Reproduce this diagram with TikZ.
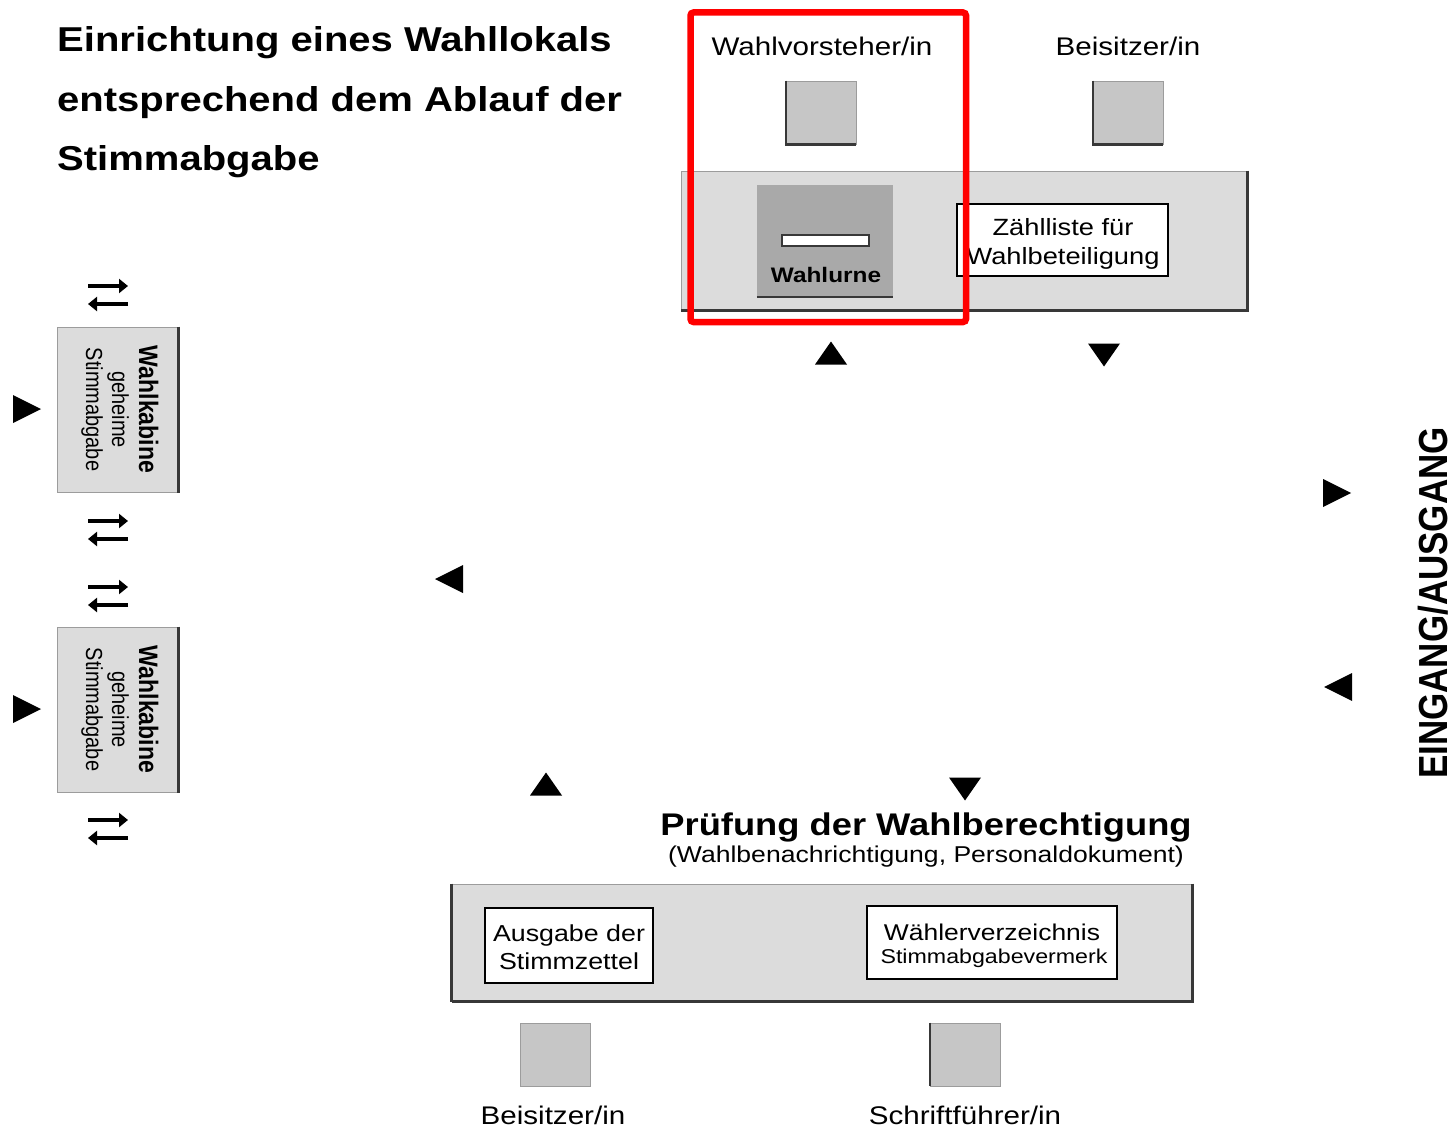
\documentclass[tikz,border=0pt]{standalone}
\usepackage{fontspec}
\setmainfont[FakeStretch=1.16]{Liberation Sans}
% narrower face for the vertical labels
\newfontfamily\vertfont[FakeStretch=0.862]{Liberation Sans}
\usetikzlibrary{arrows.meta}

\definecolor{panelgray}{HTML}{DCDCDC}
\definecolor{seatgray}{HTML}{C6C6C6}
\definecolor{urngray}{HTML}{A9A9A9}
\definecolor{edgedark}{HTML}{383838}
\definecolor{edgelight}{HTML}{9C9C9C}
\definecolor{markred}{HTML}{FF0000}

\newcommand{\fsz}[2]{\fontsize{#1}{#2}\selectfont}

\tikzset{
  panel/.style={draw=edgelight, line width=1pt, fill=panelgray, inner sep=0pt},
  seat/.style={draw=edgelight, line width=0.8pt, fill=seatgray, inner sep=0pt,
               minimum width=70, minimum height=63},
  cabin/.style={draw=edgelight, line width=1pt, fill=panelgray, inner sep=0pt,
                minimum width=121, minimum height=165},
  paper/.style={draw=black, line width=1.3pt, fill=white, inner sep=0pt},
  darkedge/.style={draw=edgedark, line width=2.2pt},
  txt/.style={inner sep=0pt, anchor=base},
  triup/.pic={\fill (-16,11.5) -- (16,11.5) -- (0,-11.5) -- cycle;},
  tridown/.pic={\fill (-16,-11.5) -- (16,-11.5) -- (0,11.5) -- cycle;},
  triright/.pic={\fill (-14,-14) -- (-14,14) -- (14,0) -- cycle;},
  trileft/.pic={\fill (14,-14) -- (14,14) -- (-14,0) -- cycle;},
  xchg/.pic={
    \draw[line width=3.6pt, -{Triangle[length=9pt,width=14pt]}] (-20,-9) -- (20,-9);
    \draw[line width=3.6pt, -{Triangle[length=9pt,width=14pt]}] (20,9) -- (-20,9);
  },
}

\begin{document}
\begin{tikzpicture}[x=1pt, y=-1pt]
\useasboundingbox (0,0) rectangle (1455,1129);
\fill[white] (0,0) rectangle (1455,1129);

% heading
\node[txt, anchor=base west, font=\bfseries\fsz{34.5}{40}] (h1) at (57,52) {Einrichtung eines Wahllokals};
\node[txt, anchor=base west, font=\bfseries\fsz{34.5}{40}] (h2) at (57,111) {entsprechend dem Ablauf der};
\node[txt, anchor=base west, font=\bfseries\fsz{34.5}{40}] (h3) at (57,170) {Stimmabgabe};

% ballot table with urn and tally list
\node[panel, minimum width=566, minimum height=139] (urntable) at (964,240.5) {};
\draw[darkedge] (urntable.north east) -- (urntable.south east) -- (urntable.south west);

\node[draw=none, fill=urngray, inner sep=0pt, minimum width=136, minimum height=112] (urn) at (825,241) {};
\draw[darkedge] (urn.south west) -- (urn.south east);
\node[draw=edgedark, line width=1.2pt, fill=white, inner sep=0pt, minimum width=87, minimum height=11] (slot) at (825.5,240.5) {};
\node[txt, font=\bfseries\fsz{21}{24}] (urnlbl) at (826,282) {Wahlurne};

\node[paper, minimum width=211, minimum height=72] (tally) at (1062.5,240) {};
\node[txt, font=\fsz{23.5}{28}] (tally1) at (1063,235) {Zählliste für};
\node[txt, font=\fsz{23.5}{28}] (tally2) at (1063,264) {Wahlbeteiligung};

% staff seats behind the ballot table
\node[seat] (chair) at (821,112.5) {};
\draw[darkedge] (chair.north west) -- (chair.south west) -- (chair.south east);
\node[seat] (assist1) at (1128,112.5) {};
\draw[darkedge] (assist1.north west) -- (assist1.south west) -- (assist1.south east);
\node[txt, font=\fsz{25.5}{30}] (chairlbl) at (822,56) {Wahlvorsteher/in};
\node[txt, font=\fsz{25.5}{30}] (assist1lbl) at (1128,56) {Beisitzer/in};

% highlight around the chair and the urn
\draw[markred, line width=6.5pt, rounded corners=3] (690.5,12.5) rectangle (966,322);

% voting booths
\node[cabin] (booth1) at (117.5,409.5) {};
\draw[darkedge] (booth1.north east) -- (booth1.south east);
\node[cabin] (booth2) at (117.5,709.5) {};
\draw[darkedge] (booth2.north east) -- (booth2.south east);
\foreach \b/\yc in {1/409.5, 2/709.5}{
  \node[txt, rotate=-90, font=\vertfont\bfseries\fsz{26.7}{30}] (booth\b a) at (139,\yc) {Wahlkabine};
  \node[txt, rotate=-90, font=\vertfont\fsz{23.2}{26}] (booth\b b) at (112,\yc) {geheime};
  \node[txt, rotate=-90, font=\vertfont\fsz{23.2}{26}] (booth\b c) at (86,\yc) {Stimmabgabe};
}

% passage arrows beside the booths
\pic at (108,295) {xchg};
\pic at (108,530) {xchg};
\pic at (108,596) {xchg};
\pic at (108,829) {xchg};

% direction markers of the voters' route
\pic at (831,353) {triup};
\pic at (1104,355) {tridown};
\pic at (27,409) {triright};
\pic at (27,709) {triright};
\pic at (1337,493) {triright};
\pic at (1338,687) {trileft};
\pic at (449,579) {trileft};
\pic at (546,784) {triup};
\pic at (965,789) {tridown};

% entrance
\node[txt, rotate=90, font=\vertfont\bfseries\fsz{40.6}{44}] (door) at (1447,603) {EINGANG/AUSGANG};

% check-in table
\node[txt, font=\bfseries\fsz{31.3}{36}] (checkhead) at (926,835) {Prüfung der Wahlberechtigung};
\node[txt, font=\fsz{22.9}{26}] (checksub) at (926,862) {(Wahlbenachrichtigung, Personaldokument)};

\node[panel, minimum width=740, minimum height=117] (desk) at (822,942.5) {};
\draw[darkedge] (desk.north east) -- (desk.south east) -- (desk.south west);
\draw[darkedge] (desk.north west) -- (desk.south west);

\node[paper, minimum width=168, minimum height=75] (ballots) at (569,945.5) {};
\node[txt, font=\fsz{23.1}{28}] (ballots1) at (569,941) {Ausgabe der};
\node[txt, font=\fsz{23.1}{28}] (ballots2) at (569,969) {Stimmzettel};

\node[paper, minimum width=250, minimum height=73] (roll) at (992,942.5) {};
\node[txt, font=\fsz{22.8}{26}] (roll1) at (992,940) {Wählerverzeichnis};
\node[txt, font=\fsz{20}{24}] (roll2) at (994,963) {Stimmabgabevermerk};

% staff seats at the check-in table
\node[seat] (assist2) at (555.5,1054.5) {};
\node[seat] (clerk) at (965.5,1054.5) {};
\draw[darkedge] (clerk.north west) -- (clerk.south west);
\node[txt, font=\fsz{25.5}{30}] (assist2lbl) at (553,1124) {Beisitzer/in};
\node[txt, font=\fsz{25.5}{30}] (clerklbl) at (965,1124) {Schriftführer/in};
\end{tikzpicture}
\end{document}
